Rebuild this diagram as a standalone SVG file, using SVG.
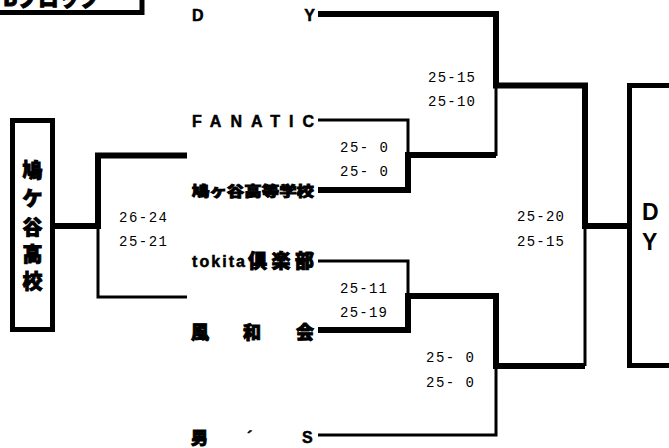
<svg xmlns="http://www.w3.org/2000/svg" width="669" height="448" viewBox="0 0 669 448">
<style>
.thick{fill:none;stroke:#000;stroke-width:6;stroke-linejoin:miter;stroke-linecap:butt}
.thin{fill:none;stroke:#000;stroke-width:3;stroke-linecap:butt}
.box{fill:#fff;stroke:#000;stroke-width:5}
.team{font-family:"Liberation Sans","Noto Sans CJK JP",sans-serif;font-weight:bold;font-size:16px;fill:#000;stroke:#000;stroke-width:0.5}
.cjk{font-family:"Noto Sans CJK JP",sans-serif;font-weight:900;fill:#000;stroke:#000;stroke-width:0.9}
.score{font-family:"Liberation Mono","DejaVu Sans Mono",monospace;font-size:14px;fill:#000}
.big{font-family:"Liberation Sans","Noto Sans CJK JP",sans-serif;font-weight:bold;fill:#000}
</style>
<rect width="669" height="448" fill="#fff"/>
<g id="connectors">
<path class="thin" d="M318,120 H408 V156"/>
<path class="thin" d="M496,156 V85"/>
<path class="thin" d="M318,261 H408 V296"/>
<path class="thin" d="M318,435 H496 V366"/>
<path class="thin" d="M585,226 V366"/>
<path class="thin" d="M98,226 V297 H187"/>
<path class="thick" d="M318,14 H496 V85.5 H585 V226 H630"/>
<path class="thick" d="M318,190 H408 V155 H496"/>
<path class="thick" d="M318,330 H408 V296 H496 V366 H585"/>
<path class="thick" d="M55,226 H98 V155.5 H187"/>
</g>
<g id="block-title">
<rect class="box" x="-10" y="-30" width="152" height="42.5"/>
<text class="cjk" x="3" y="6" font-size="22" textLength="97" lengthAdjust="spacingAndGlyphs">Bブロック</text>
</g>
<g id="team-dy"><text class="team" x="192" y="21" textLength="123" lengthAdjust="spacing">D Y</text></g>
<g id="team-fanatic"><text class="team" x="192" y="127" textLength="122" lengthAdjust="spacing">FANATIC</text></g>
<g id="team-hatogaya-hs"><text class="cjk" x="192" y="196" font-size="14" stroke-width="0.6" textLength="122" lengthAdjust="spacingAndGlyphs">鳩ヶ谷高等学校</text></g>
<g id="team-tokita"><text class="team" x="192" y="267"><tspan textLength="53" lengthAdjust="spacing">tokita</tspan></text><text class="cjk" x="248" y="268" font-size="19" textLength="66" lengthAdjust="spacing">倶楽部</text></g>
<g id="team-fuwakai"><text class="cjk" y="339" font-size="18"><tspan x="191">風</tspan><tspan x="243">和</tspan><tspan x="296">会</tspan></text></g>
<g id="team-otoko"><text class="cjk" y="444" font-size="17"><tspan x="191">男</tspan></text><text class="team" y="443"><tspan x="247">´</tspan><tspan x="302">S</tspan></text></g>
<g id="score-r1a">
<text class="score" x="340" y="152" textLength="48" lengthAdjust="spacing">25- 0</text>
<text class="score" x="340" y="176" textLength="48" lengthAdjust="spacing">25- 0</text>
</g>
<g id="score-r1b">
<text class="score" x="340" y="293" textLength="47" lengthAdjust="spacing">25-11</text>
<text class="score" x="340" y="317" textLength="47" lengthAdjust="spacing">25-19</text>
</g>
<g id="score-r2a">
<text class="score" x="428" y="82" textLength="47" lengthAdjust="spacing">25-15</text>
<text class="score" x="428" y="106" textLength="47" lengthAdjust="spacing">25-10</text>
</g>
<g id="score-r2b">
<text class="score" x="426" y="362" textLength="48" lengthAdjust="spacing">25- 0</text>
<text class="score" x="426" y="387" textLength="48" lengthAdjust="spacing">25- 0</text>
</g>
<g id="score-final">
<text class="score" x="517" y="221" textLength="47" lengthAdjust="spacing">25-20</text>
<text class="score" x="517" y="246" textLength="47" lengthAdjust="spacing">25-15</text>
</g>
<g id="score-left">
<text class="score" x="119" y="222" textLength="48" lengthAdjust="spacing">26-24</text>
<text class="score" x="119" y="246" textLength="48" lengthAdjust="spacing">25-21</text>
</g>
<g id="winner-hatogaya">
<rect class="box" x="12.5" y="120.5" width="40" height="209"/>
<text class="cjk" font-size="20" text-anchor="middle">
<tspan x="32.5" y="178">鳩</tspan><tspan x="32.5" y="206">ケ</tspan><tspan x="32.5" y="235">谷</tspan><tspan x="32.5" y="262">高</tspan><tspan x="32.5" y="289">校</tspan>
</text>
</g>
<g id="winner-dy">
<rect class="box" x="629.5" y="85.5" width="60" height="280"/>
<text class="big" font-size="23"><tspan x="642" y="220">D</tspan><tspan x="642" y="250">Y</tspan></text>
</g>
</svg>
